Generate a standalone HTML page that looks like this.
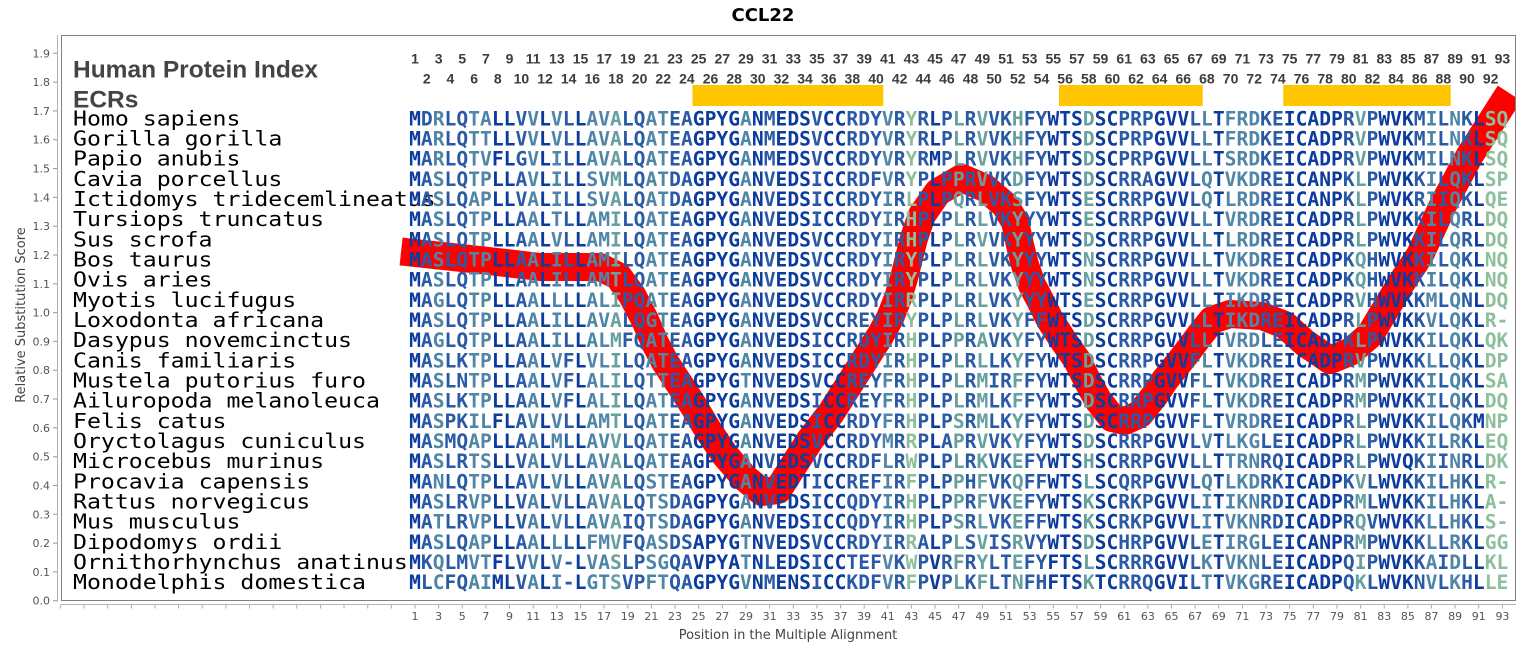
<!DOCTYPE html>
<html><head><meta charset="utf-8"><style>html,body{margin:0;padding:0;background:#fff}svg{display:block}</style></head>
<body>
<svg xmlns="http://www.w3.org/2000/svg" width="1527" height="650" viewBox="0 0 1527 650">
<defs>
<clipPath id="pc"><rect x="62" y="36" width="1453" height="564"/></clipPath>
<linearGradient id="cg" gradientUnits="userSpaceOnUse" x1="409.09" y1="0" x2="1508.35" y2="0">
<stop offset="0" stop-color="#0b3b9f"/>
<stop offset=".010753" stop-color="#0b3b9f"/><stop offset=".010753" stop-color="#2a5aa6"/>
<stop offset=".021505" stop-color="#2a5aa6"/><stop offset=".021505" stop-color="#4f86a8"/>
<stop offset=".032258" stop-color="#4f86a8"/><stop offset=".032258" stop-color="#2a5aa6"/>
<stop offset=".053763" stop-color="#2a5aa6"/><stop offset=".053763" stop-color="#4f86a8"/>
<stop offset=".075269" stop-color="#4f86a8"/><stop offset=".075269" stop-color="#0b3b9f"/>
<stop offset=".096774" stop-color="#0b3b9f"/><stop offset=".096774" stop-color="#2a5aa6"/>
<stop offset=".107527" stop-color="#2a5aa6"/><stop offset=".107527" stop-color="#4f86a8"/>
<stop offset=".118280" stop-color="#4f86a8"/><stop offset=".118280" stop-color="#0b3b9f"/>
<stop offset=".129032" stop-color="#0b3b9f"/><stop offset=".129032" stop-color="#4f86a8"/>
<stop offset=".139785" stop-color="#4f86a8"/><stop offset=".139785" stop-color="#2a5aa6"/>
<stop offset=".150538" stop-color="#2a5aa6"/><stop offset=".150538" stop-color="#0b3b9f"/>
<stop offset=".161290" stop-color="#0b3b9f"/><stop offset=".161290" stop-color="#4f86a8"/>
<stop offset=".182796" stop-color="#4f86a8"/><stop offset=".182796" stop-color="#66a09f"/>
<stop offset=".193548" stop-color="#66a09f"/><stop offset=".193548" stop-color="#2a5aa6"/>
<stop offset=".215054" stop-color="#2a5aa6"/><stop offset=".215054" stop-color="#4f86a8"/>
<stop offset=".236559" stop-color="#4f86a8"/><stop offset=".236559" stop-color="#2a5aa6"/>
<stop offset=".258065" stop-color="#2a5aa6"/><stop offset=".258065" stop-color="#0b3b9f"/>
<stop offset=".301075" stop-color="#0b3b9f"/><stop offset=".301075" stop-color="#4f86a8"/>
<stop offset=".311828" stop-color="#4f86a8"/><stop offset=".311828" stop-color="#0b3b9f"/>
<stop offset=".322581" stop-color="#0b3b9f"/><stop offset=".322581" stop-color="#2a5aa6"/>
<stop offset=".333333" stop-color="#2a5aa6"/><stop offset=".333333" stop-color="#0b3b9f"/>
<stop offset=".365591" stop-color="#0b3b9f"/><stop offset=".365591" stop-color="#2a5aa6"/>
<stop offset=".376344" stop-color="#2a5aa6"/><stop offset=".376344" stop-color="#0b3b9f"/>
<stop offset=".397849" stop-color="#0b3b9f"/><stop offset=".397849" stop-color="#2a5aa6"/>
<stop offset=".430108" stop-color="#2a5aa6"/><stop offset=".430108" stop-color="#4f86a8"/>
<stop offset=".440860" stop-color="#4f86a8"/><stop offset=".440860" stop-color="#2a5aa6"/>
<stop offset=".451613" stop-color="#2a5aa6"/><stop offset=".451613" stop-color="#8dbf9c"/>
<stop offset=".462366" stop-color="#8dbf9c"/><stop offset=".462366" stop-color="#2a5aa6"/>
<stop offset=".473118" stop-color="#2a5aa6"/><stop offset=".473118" stop-color="#0b3b9f"/>
<stop offset=".483871" stop-color="#0b3b9f"/><stop offset=".483871" stop-color="#2a5aa6"/>
<stop offset=".494624" stop-color="#2a5aa6"/><stop offset=".494624" stop-color="#66a09f"/>
<stop offset=".505376" stop-color="#66a09f"/><stop offset=".505376" stop-color="#2a5aa6"/>
<stop offset=".516129" stop-color="#2a5aa6"/><stop offset=".516129" stop-color="#66a09f"/>
<stop offset=".526882" stop-color="#66a09f"/><stop offset=".526882" stop-color="#2a5aa6"/>
<stop offset=".548387" stop-color="#2a5aa6"/><stop offset=".548387" stop-color="#66a09f"/>
<stop offset=".559140" stop-color="#66a09f"/><stop offset=".559140" stop-color="#2a5aa6"/>
<stop offset=".580645" stop-color="#2a5aa6"/><stop offset=".580645" stop-color="#0b3b9f"/>
<stop offset=".612903" stop-color="#0b3b9f"/><stop offset=".612903" stop-color="#66a09f"/>
<stop offset=".623656" stop-color="#66a09f"/><stop offset=".623656" stop-color="#0b3b9f"/>
<stop offset=".645161" stop-color="#0b3b9f"/><stop offset=".645161" stop-color="#2a5aa6"/>
<stop offset=".677419" stop-color="#2a5aa6"/><stop offset=".677419" stop-color="#0b3b9f"/>
<stop offset=".709677" stop-color="#0b3b9f"/><stop offset=".709677" stop-color="#2a5aa6"/>
<stop offset=".720430" stop-color="#2a5aa6"/><stop offset=".720430" stop-color="#4f86a8"/>
<stop offset=".731183" stop-color="#4f86a8"/><stop offset=".731183" stop-color="#0b3b9f"/>
<stop offset=".741935" stop-color="#0b3b9f"/><stop offset=".741935" stop-color="#4f86a8"/>
<stop offset=".774194" stop-color="#4f86a8"/><stop offset=".774194" stop-color="#2a5aa6"/>
<stop offset=".795699" stop-color="#2a5aa6"/><stop offset=".795699" stop-color="#0b3b9f"/>
<stop offset=".849462" stop-color="#0b3b9f"/><stop offset=".849462" stop-color="#2a5aa6"/>
<stop offset=".860215" stop-color="#2a5aa6"/><stop offset=".860215" stop-color="#66a09f"/>
<stop offset=".870968" stop-color="#66a09f"/><stop offset=".870968" stop-color="#2a5aa6"/>
<stop offset=".881720" stop-color="#2a5aa6"/><stop offset=".881720" stop-color="#0b3b9f"/>
<stop offset=".913978" stop-color="#0b3b9f"/><stop offset=".913978" stop-color="#2a5aa6"/>
<stop offset=".924731" stop-color="#2a5aa6"/><stop offset=".924731" stop-color="#4f86a8"/>
<stop offset=".935484" stop-color="#4f86a8"/><stop offset=".935484" stop-color="#2a5aa6"/>
<stop offset=".946237" stop-color="#2a5aa6"/><stop offset=".946237" stop-color="#4f86a8"/>
<stop offset=".956989" stop-color="#4f86a8"/><stop offset=".956989" stop-color="#2a5aa6"/>
<stop offset=".967742" stop-color="#2a5aa6"/><stop offset=".967742" stop-color="#0b3b9f"/>
<stop offset=".978495" stop-color="#0b3b9f"/><stop offset=".978495" stop-color="#8dbf9c"/>
<stop offset="1" stop-color="#8dbf9c"/>
</linearGradient>
</defs>
<rect width="1527" height="650" fill="#fff"/>

<!-- Title -->
<text x="763" y="21" text-anchor="middle" font-family="DejaVu Sans, Liberation Sans, sans-serif" font-weight="bold" font-size="18" fill="#000">CCL22</text>

<!-- Y axis -->
<line x1="57.5" y1="35" x2="57.5" y2="601.5" stroke="#b4b4b4" stroke-width="1"/>
<path d="M53 600.7H57.5M53 571.9H57.5M53 543.1H57.5M53 514.3H57.5M53 485.5H57.5M53 456.7H57.5M53 427.8H57.5M53 399H57.5M53 370.2H57.5M53 341.4H57.5M53 312.6H57.5M53 283.8H57.5M53 255H57.5M53 226.2H57.5M53 197.4H57.5M53 168.5H57.5M53 139.7H57.5M53 110.9H57.5M53 82.1H57.5M53 53.3H57.5" stroke="#999" stroke-width="1"/>
<g font-family="DejaVu Sans, Liberation Sans, sans-serif" font-size="11" fill="#555" text-anchor="end">
<text x="50" y="604.7">0.0</text><text x="50" y="575.9">0.1</text><text x="50" y="547.1">0.2</text><text x="50" y="518.3">0.3</text><text x="50" y="489.5">0.4</text><text x="50" y="460.7">0.5</text><text x="50" y="431.8">0.6</text><text x="50" y="403">0.7</text><text x="50" y="374.2">0.8</text><text x="50" y="345.4">0.9</text><text x="50" y="316.6">1.0</text><text x="50" y="287.8">1.1</text><text x="50" y="259">1.2</text><text x="50" y="230.2">1.3</text><text x="50" y="201.4">1.4</text><text x="50" y="172.5">1.5</text><text x="50" y="143.7">1.6</text><text x="50" y="114.9">1.7</text><text x="50" y="86.1">1.8</text><text x="50" y="57.3">1.9</text>
</g>
<text transform="translate(25,315) rotate(-90)" text-anchor="middle" font-family="DejaVu Sans, Liberation Sans, sans-serif" font-size="13" fill="#444">Relative Substitution Score</text>

<!-- X axis -->
<line x1="61" y1="604.5" x2="1516" y2="604.5" stroke="#b4b4b4" stroke-width="1"/>
<path d="M60.4 604.5v4M84.04 604.5v4M107.68 604.5v4M131.32 604.5v4M154.96 604.5v4M178.6 604.5v4M202.24 604.5v4M225.88 604.5v4M249.52 604.5v4M273.16 604.5v4M296.8 604.5v4M320.44 604.5v4M344.08 604.5v4M367.72 604.5v4M391.36 604.5v4M415 604.5v4M438.64 604.5v4M462.28 604.5v4M485.92 604.5v4M509.56 604.5v4M533.2 604.5v4M556.84 604.5v4M580.48 604.5v4M604.12 604.5v4M627.76 604.5v4M651.4 604.5v4M675.04 604.5v4M698.68 604.5v4M722.32 604.5v4M745.96 604.5v4M769.6 604.5v4M793.24 604.5v4M816.88 604.5v4M840.52 604.5v4M864.16 604.5v4M887.8 604.5v4M911.44 604.5v4M935.08 604.5v4M958.72 604.5v4M982.36 604.5v4M1006 604.5v4M1029.64 604.5v4M1053.28 604.5v4M1076.92 604.5v4M1100.56 604.5v4M1124.2 604.5v4M1147.84 604.5v4M1171.48 604.5v4M1195.12 604.5v4M1218.76 604.5v4M1242.4 604.5v4M1266.04 604.5v4M1289.68 604.5v4M1313.32 604.5v4M1336.96 604.5v4M1360.6 604.5v4M1384.24 604.5v4M1407.88 604.5v4M1431.52 604.5v4M1455.16 604.5v4M1478.8 604.5v4M1502.44 604.5v4" stroke="#aaa" stroke-width="1"/>
<text y="620" text-anchor="middle" font-family="DejaVu Sans, Liberation Sans, sans-serif" font-size="11" fill="#555"><tspan x="415">1</tspan><tspan x="438.64">3</tspan><tspan x="462.28">5</tspan><tspan x="485.92">7</tspan><tspan x="509.56">9</tspan><tspan x="533.2">11</tspan><tspan x="556.84">13</tspan><tspan x="580.48">15</tspan><tspan x="604.12">17</tspan><tspan x="627.76">19</tspan><tspan x="651.4">21</tspan><tspan x="675.04">23</tspan><tspan x="698.68">25</tspan><tspan x="722.32">27</tspan><tspan x="745.96">29</tspan><tspan x="769.6">31</tspan><tspan x="793.24">33</tspan><tspan x="816.88">35</tspan><tspan x="840.52">37</tspan><tspan x="864.16">39</tspan><tspan x="887.8">41</tspan><tspan x="911.44">43</tspan><tspan x="935.08">45</tspan><tspan x="958.72">47</tspan><tspan x="982.36">49</tspan><tspan x="1006">51</tspan><tspan x="1029.64">53</tspan><tspan x="1053.28">55</tspan><tspan x="1076.92">57</tspan><tspan x="1100.56">59</tspan><tspan x="1124.2">61</tspan><tspan x="1147.84">63</tspan><tspan x="1171.48">65</tspan><tspan x="1195.12">67</tspan><tspan x="1218.76">69</tspan><tspan x="1242.4">71</tspan><tspan x="1266.04">73</tspan><tspan x="1289.68">75</tspan><tspan x="1313.32">77</tspan><tspan x="1336.96">79</tspan><tspan x="1360.6">81</tspan><tspan x="1384.24">83</tspan><tspan x="1407.88">85</tspan><tspan x="1431.52">87</tspan><tspan x="1455.16">89</tspan><tspan x="1478.8">91</tspan><tspan x="1502.44">93</tspan></text>
<text x="788" y="639" text-anchor="middle" font-family="DejaVu Sans, Liberation Sans, sans-serif" font-size="13" fill="#444">Position in the Multiple Alignment</text>

<!-- Plot border -->
<rect x="61.5" y="35.5" width="1454" height="565" fill="#fff" stroke="#808080" stroke-width="1"/>

<!-- Red substitution line -->
<g clip-path="url(#pc)">
<path d="M415 253 L480 260 L540 267 L600 267 L618 276 L632 295 L645 320 L655 343 L665 362 L680 385 L693 405 L708 430 L725 455 L745 478 L762 492 L778 490 L792 468 L810 440 L831 413 L852 380 L866 358 L880 336 L890 318 L898 298 L904 278 L909 258 L914 238 L922 215 L938 192 L962 178 L985 188 L1005 205 L1015 222 L1020 245 L1025 265 L1032 285 L1040 300 L1050 320 L1063 340 L1077 360 L1087 380 L1098 400 L1112 418 L1125 421 L1140 414 L1155 395 L1165 380 L1185 355 L1200 335 L1212 320 L1230 314 L1262 316 L1285 325 L1305 343 L1330 360 L1350 352 L1370 335 L1385 310 L1400 285 L1420 255 L1443 205 L1470 155 L1502 105" fill="none" stroke="#ff0000" stroke-width="28" stroke-linejoin="round" stroke-linecap="square"/>
</g>

<!-- Header labels -->
<text x="73" y="77.3" font-family="Liberation Sans, Arial, sans-serif" font-weight="bold" font-size="24.5" fill="#444">Human Protein Index</text>
<text x="73" y="107.3" font-family="Liberation Sans, Arial, sans-serif" font-weight="bold" font-size="24.5" fill="#444">ECRs</text>

<!-- Top position numbers -->
<g font-family="Liberation Sans, Arial, sans-serif" font-weight="bold" font-size="14" fill="#3c3c3c" text-anchor="middle">
<text y="63.3"><tspan x="415">1</tspan><tspan x="438.64">3</tspan><tspan x="462.28">5</tspan><tspan x="485.92">7</tspan><tspan x="509.56">9</tspan><tspan x="533.2">11</tspan><tspan x="556.84">13</tspan><tspan x="580.48">15</tspan><tspan x="604.12">17</tspan><tspan x="627.76">19</tspan><tspan x="651.4">21</tspan><tspan x="675.04">23</tspan><tspan x="698.68">25</tspan><tspan x="722.32">27</tspan><tspan x="745.96">29</tspan><tspan x="769.6">31</tspan><tspan x="793.24">33</tspan><tspan x="816.88">35</tspan><tspan x="840.52">37</tspan><tspan x="864.16">39</tspan><tspan x="887.8">41</tspan><tspan x="911.44">43</tspan><tspan x="935.08">45</tspan><tspan x="958.72">47</tspan><tspan x="982.36">49</tspan><tspan x="1006">51</tspan><tspan x="1029.64">53</tspan><tspan x="1053.28">55</tspan><tspan x="1076.92">57</tspan><tspan x="1100.56">59</tspan><tspan x="1124.2">61</tspan><tspan x="1147.84">63</tspan><tspan x="1171.48">65</tspan><tspan x="1195.12">67</tspan><tspan x="1218.76">69</tspan><tspan x="1242.4">71</tspan><tspan x="1266.04">73</tspan><tspan x="1289.68">75</tspan><tspan x="1313.32">77</tspan><tspan x="1336.96">79</tspan><tspan x="1360.6">81</tspan><tspan x="1384.24">83</tspan><tspan x="1407.88">85</tspan><tspan x="1431.52">87</tspan><tspan x="1455.16">89</tspan><tspan x="1478.8">91</tspan><tspan x="1502.44">93</tspan></text>
<text y="83.3"><tspan x="426.82">2</tspan><tspan x="450.46">4</tspan><tspan x="474.1">6</tspan><tspan x="497.74">8</tspan><tspan x="521.38">10</tspan><tspan x="545.02">12</tspan><tspan x="568.66">14</tspan><tspan x="592.3">16</tspan><tspan x="615.94">18</tspan><tspan x="639.58">20</tspan><tspan x="663.22">22</tspan><tspan x="686.86">24</tspan><tspan x="710.5">26</tspan><tspan x="734.14">28</tspan><tspan x="757.78">30</tspan><tspan x="781.42">32</tspan><tspan x="805.06">34</tspan><tspan x="828.7">36</tspan><tspan x="852.34">38</tspan><tspan x="875.98">40</tspan><tspan x="899.62">42</tspan><tspan x="923.26">44</tspan><tspan x="946.9">46</tspan><tspan x="970.54">48</tspan><tspan x="994.18">50</tspan><tspan x="1017.82">52</tspan><tspan x="1041.46">54</tspan><tspan x="1065.1">56</tspan><tspan x="1088.74">58</tspan><tspan x="1112.38">60</tspan><tspan x="1136.02">62</tspan><tspan x="1159.66">64</tspan><tspan x="1183.3">66</tspan><tspan x="1206.94">68</tspan><tspan x="1230.58">70</tspan><tspan x="1254.22">72</tspan><tspan x="1277.86">74</tspan><tspan x="1301.5">76</tspan><tspan x="1325.14">78</tspan><tspan x="1348.78">80</tspan><tspan x="1372.42">82</tspan><tspan x="1396.06">84</tspan><tspan x="1419.7">86</tspan><tspan x="1443.34">88</tspan><tspan x="1466.98">90</tspan><tspan x="1490.62">92</tspan></text>
</g>

<!-- ECR bars -->
<rect x="692.5" y="85" width="190.8" height="21" fill="#ffc600"/>
<rect x="1059" y="85" width="143.7" height="21" fill="#ffc600"/>
<rect x="1283.3" y="85" width="167.4" height="21" fill="#ffc600"/>

<!-- Species names -->
<g font-family="DejaVu Sans Mono, Liberation Mono, monospace" font-size="20" fill="#000" lengthAdjust="spacingAndGlyphs">
<text x="73" y="125.3" textLength="167.4" lengthAdjust="spacingAndGlyphs">Homo sapiens</text>
<text x="73" y="145.5" textLength="209.3" lengthAdjust="spacingAndGlyphs">Gorilla gorilla</text>
<text x="73" y="165.6" textLength="167.4" lengthAdjust="spacingAndGlyphs">Papio anubis</text>
<text x="73" y="185.8" textLength="209.3" lengthAdjust="spacingAndGlyphs">Cavia porcellus</text>
<text x="73" y="206" textLength="362.7" lengthAdjust="spacingAndGlyphs">Ictidomys tridecemlineatus</text>
<text x="73" y="226.2" textLength="251.1" lengthAdjust="spacingAndGlyphs">Tursiops truncatus</text>
<text x="73" y="246.3" textLength="139.5" lengthAdjust="spacingAndGlyphs">Sus scrofa</text>
<text x="73" y="266.5" textLength="139.5" lengthAdjust="spacingAndGlyphs">Bos taurus</text>
<text x="73" y="286.7" textLength="139.5" lengthAdjust="spacingAndGlyphs">Ovis aries</text>
<text x="73" y="306.8" textLength="223.2" lengthAdjust="spacingAndGlyphs">Myotis lucifugus</text>
<text x="73" y="327" textLength="251.1" lengthAdjust="spacingAndGlyphs">Loxodonta africana</text>
<text x="73" y="347.2" textLength="279" lengthAdjust="spacingAndGlyphs">Dasypus novemcinctus</text>
<text x="73" y="367.3" textLength="223.2" lengthAdjust="spacingAndGlyphs">Canis familiaris</text>
<text x="73" y="387.5" textLength="293" lengthAdjust="spacingAndGlyphs">Mustela putorius furo</text>
<text x="73" y="407.7" textLength="306.9" lengthAdjust="spacingAndGlyphs">Ailuropoda melanoleuca</text>
<text x="73" y="427.9" textLength="153.5" lengthAdjust="spacingAndGlyphs">Felis catus</text>
<text x="73" y="448" textLength="293" lengthAdjust="spacingAndGlyphs">Oryctolagus cuniculus</text>
<text x="73" y="468.2" textLength="251.1" lengthAdjust="spacingAndGlyphs">Microcebus murinus</text>
<text x="73" y="488.4" textLength="237.2" lengthAdjust="spacingAndGlyphs">Procavia capensis</text>
<text x="73" y="508.5" textLength="237.2" lengthAdjust="spacingAndGlyphs">Rattus norvegicus</text>
<text x="73" y="528.7" textLength="167.4" lengthAdjust="spacingAndGlyphs">Mus musculus</text>
<text x="73" y="548.9" textLength="209.3" lengthAdjust="spacingAndGlyphs">Dipodomys ordii</text>
<text x="73" y="569" textLength="334.8" lengthAdjust="spacingAndGlyphs">Ornithorhynchus anatinus</text>
<text x="73" y="589.2" textLength="293" lengthAdjust="spacingAndGlyphs">Monodelphis domestica</text>
</g>

<!-- Sequences -->
<g font-family="DejaVu Sans Mono, Liberation Mono, monospace" font-weight="bold" font-size="19.63" fill="url(#cg)">
<text x="409.09" y="125.3" textLength="1099.26" lengthAdjust="spacing">MDRLQTALLVVLVLLAVALQATEAGPYGANMEDSVCCRDYVRYRLPLRVVKHFYWTSDSCPRPGVVLLTFRDKEICADPRVPWVKMILNKLSQ</text>
<text x="409.09" y="145.5" textLength="1099.26" lengthAdjust="spacing">MARLQTTLLVVLVLLAVALQATEAGPYGANMEDSVCCRDYVRYRLPLRVVKHFYWTSDSCPRPGVVLLTFRDKEICADPRVPWVKMILNKLSQ</text>
<text x="409.09" y="165.6" textLength="1099.26" lengthAdjust="spacing">MARLQTVFLGVLILLAVALQATEAGPYGANMEDSVCCRDYVRYRMPLRVVKHFYWTSDSCPRPGVVLLTSRDKEICADPRVPWVKMILNKLSQ</text>
<text x="409.09" y="185.8" textLength="1099.26" lengthAdjust="spacing">MASLQTPLLAVLILLSVMLQATDAGPYGANVEDSICCRDFVRYPLPPRVVKDFYWTSDSCRRAGVVLQTVKDREICANPKLPWVKKILQKLSP</text>
<text x="409.09" y="206" textLength="1099.26" lengthAdjust="spacing">MASLQAPLLVALILLSVALQATDAGPYGANVEDSICCRDYIRLPLPQRLVKSFYWTSESCRRPGVVLQTLRDREICANPKLPWVKRIIQKLQE</text>
<text x="409.09" y="226.2" textLength="1099.26" lengthAdjust="spacing">MASLQTPLLAALTLLAMILQATEAGPYGANVEDSICCRDYIRHPLPLRLVKYYYWTSESCRRPGVVLLTVRDREICADPRLPWVKKILQRLDQ</text>
<text x="409.09" y="246.3" textLength="1099.26" lengthAdjust="spacing">MASLQTPLLAALVLLAMILQATEAGPYGANVEDSVCCRDYIRHPLPLRVVKYYYWTSDSCRRPGVVLLTLRDREICADPRLPWVKKILQRLDQ</text>
<text x="409.09" y="266.5" textLength="1099.26" lengthAdjust="spacing">MASLQTPLLAALILLAMILQATEAGPYGANVEDSVCCRDYIRYPLPLRLVKYYYWTSNSCRRPGVVLLTVKDREICADPKQHWVKKILQKLNQ</text>
<text x="409.09" y="286.7" textLength="1099.26" lengthAdjust="spacing">MASLQTPLLAALILLAMTLQATEAGPYGANVEDSVCCRDYIRYPLPLRLVKYYYWTSNSCRRPGVVLLTVKDREICADPKQHWVKKILQKLNQ</text>
<text x="409.09" y="306.8" textLength="1099.26" lengthAdjust="spacing">MAGLQTPLLAALLLLALIPQATEAGPYGANVEDSVCCRDYIRRPLPLRLVKYYYWTSESCRRPGVVLLTIKDREICADPRVHWVKKMLQNLDQ</text>
<text x="409.09" y="327" textLength="1099.26" lengthAdjust="spacing">MASLQTPLLAALILLAVALQGTEAGPYGANVEDSVCCREYIRYPLPLRLVKYFFWTSDSCRRPGVVLLTIKDREICADPRLPWVKKVLQKLR-</text>
<text x="409.09" y="347.2" textLength="1099.26" lengthAdjust="spacing">MAGLQTPLLAALILLALMFQATEAGPYGANVEDSICCRDYIRHPLPPRAVKYFYWTSDSCRRPGVVLLTVRDLEICADPKLPWVKKILQKLQK</text>
<text x="409.09" y="367.3" textLength="1099.26" lengthAdjust="spacing">MASLKTPLLAALVFLVLILQATEAGPYGANVEDSICCRDYIRHPLPLRLLKYFYWTSDSCRRPGVVFLTVKDREICADPRVPWVKKLLQKLDP</text>
<text x="409.09" y="387.5" textLength="1099.26" lengthAdjust="spacing">MASLNTPLLAALVFLALILQTTEAGPYGTNVEDSVCCREYFRHPLPLRMIRFFYWTSDSCRRPGVVFLTVKDREICADPRMPWVKKILQKLSA</text>
<text x="409.09" y="407.7" textLength="1099.26" lengthAdjust="spacing">MASLKTPLLAALVFLALILQATEAGPYGANVEDSICCREYFRHPLPLRMLKFFYWTSDSCRRPGVVFLTVKDREICADPRMPWVKKILQKLDQ</text>
<text x="409.09" y="427.9" textLength="1099.26" lengthAdjust="spacing">MASPKILFLAVLVLLAMTLQATEAGPYGANVEDSICCRDYFRHPLPSRMLKYFYWTSDSCRRPGVVFLTVRDREICADPRLPWVKKILQKMNP</text>
<text x="409.09" y="448" textLength="1099.26" lengthAdjust="spacing">MASMQAPLLAALMLLAVVLQATEAGPYGANVEDSVCCRDYMRRPLAPRVVKYFYWTSDSCRRPGVVLVTLKGLEICADPRLPWVKKILRKLEQ</text>
<text x="409.09" y="468.2" textLength="1099.26" lengthAdjust="spacing">MASLRTSLLVALVLLAVALQATEAGPYGANVEDSVCCRDFLRWPLPLRKVKEFYWTSHSCRRPGVVLLTTRNRQICADPRLPWVQKIINRLDK</text>
<text x="409.09" y="488.4" textLength="1099.26" lengthAdjust="spacing">MANLQTPLLAVLVLLAVALQSTEAGPYGANVEDTICCREFIRFPLPPHFVKQFFWTSLSCQRPGVVLQTLKDRKICADPKVLWVKKILHKLR-</text>
<text x="409.09" y="508.5" textLength="1099.26" lengthAdjust="spacing">MASLRVPLLVALVLLAVALQTSDAGPYGANVEDSICCQDYIRHPLPPRFVKEFYWTSKSCRKPGVVLITIKNRDICADPRMLWVKKILHKLA-</text>
<text x="409.09" y="528.7" textLength="1099.26" lengthAdjust="spacing">MATLRVPLLVALVLLAVAIQTSDAGPYGANVEDSICCQDYIRHPLPSRLVKEFFWTSKSCRKPGVVLITVKNRDICADPRQVWVKKLLHKLS-</text>
<text x="409.09" y="548.9" textLength="1099.26" lengthAdjust="spacing">MASLQAPLLAALLLLFMVFQASDSAPYGTNVEDSVCCRDYIRRALPLSVISRVYWTSDSCHRPGVVLETIRGLEICANPRMPWVKKLLRKLGG</text>
<text x="409.09" y="569" textLength="1099.26" lengthAdjust="spacing">MKQLMVTFLVVLV-LVASLPSGQAVPYATNLEDSICCTEFVKWPVRFRYLTEFYFTSLSCRRRGVVLKTVKNLEICADPQIPWVKKAIDLLKL</text>
<text x="409.09" y="589.2" textLength="1099.26" lengthAdjust="spacing">MLCFQAIMLVALI-LGTSVPFTQAGPYGVNMENSICCKDFVRFPVPLKFLTNFHFTSKTCRRQGVILTTVKGREICADPQKLWVKNVLKHLLE</text>
</g>
</svg>
</body></html>
